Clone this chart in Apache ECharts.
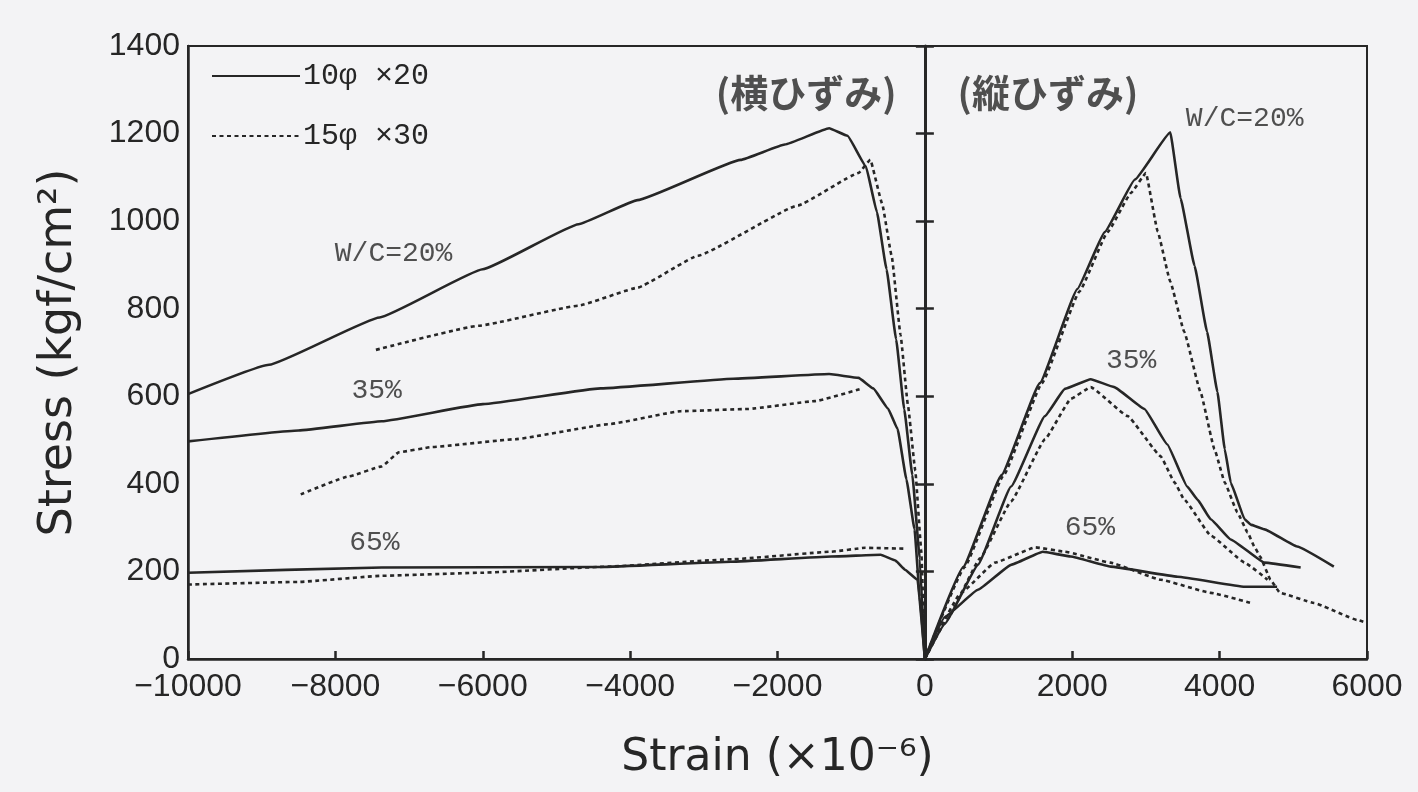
<!DOCTYPE html>
<html><head><meta charset="utf-8">
<script src="https://cdn.jsdelivr.net/npm/echarts@6/dist/echarts.min.js"></script>
<style>html,body{margin:0;padding:0;background:#f3f3f5}#c{width:1418px;height:792px}</style>
</head><body><div id="c"></div>
<script>
// ---- data (strain x10^-6, stress kgf/cm2) ----
const xMin = -10000, xMax = 6000, xStep = 2000;
const yMin = 0, yMax = 1400, yStep = 200;
const SOLID = '10φ ×20';
const DOTTED = '15φ ×30';

// lateral strain (negative side)
const lat20_solid = [[-10000,605],[-8900,672],[-7400,780],[-6000,890],[-4700,993],[-3900,1048],[-2500,1140],[-1900,1175],[-1300,1212],[-1050,1195],[-800,1125],[-650,1020],[-520,890],[-390,730],[-280,570],[-170,420],[-70,230],[0,0]];
const lat20_dot = [[-7450,706],[-6060,761],[-4700,807],[-3900,848],[-3080,921],[-1720,1036],[-900,1110],[-740,1140],[-580,1040],[-450,920],[-330,740],[-230,580],[-130,430],[-50,250],[0,0]];
const lat35_solid = [[-10000,497],[-8500,522],[-7370,543],[-6000,582],[-4400,618],[-2600,640],[-1300,651],[-900,642],[-700,618],[-500,572],[-370,525],[-250,410],[-140,296],[-70,142],[0,0]];
const lat35_dot = [[-8470,376],[-7820,417],[-7370,440],[-7140,472],[-6690,484],[-5560,502],[-4300,536],[-3310,566],[-2400,571],[-1490,589],[-870,617]];
const lat65_solid = [[-10000,197],[-7370,209],[-4400,210],[-2630,222],[-1270,234],[-600,238],[-400,225],[-270,204],[-100,181],[0,0]];
const lat65_dot = [[-10000,170],[-8500,176],[-7370,190],[-6020,197],[-4300,211],[-2600,228],[-1270,245],[-810,254],[-270,252]];

// longitudinal strain (positive side)
const lon20_solid = [[0,0],[520,210],[1040,420],[1560,630],[2070,845],[2440,975],[2850,1095],[3330,1203],[3470,1052],[3660,898],[3830,747],[3970,610],[4070,479],[4150,403],[4340,319],[4420,307],[4610,296],[5050,257],[5550,211]];
const lon20_dot = [[0,0],[540,210],[1070,420],[1590,630],[2100,840],[2480,975],[2800,1065],[3000,1110],[3160,976],[3330,862],[3520,747],[3740,610],[3930,479],[4070,403],[4240,335],[4380,289],[4470,257],[4550,234],[4690,181],[4820,151],[5280,128],[5870,89],[5950,85]];
const lon35_solid = [[0,0],[270,80],[720,215],[1170,394],[1630,555],[1900,617],[2250,639],[2570,621],[2980,571],[3290,490],[3560,394],[3700,364],[3880,319],[4150,273],[4610,220],[5100,209]];
const lon35_dot = [[0,0],[300,90],[750,230],[1170,360],[1630,502],[1980,594],[2250,621],[2750,555],[3200,463],[3390,403],[3520,364],[3880,282],[4340,220],[4650,181]];
const lon65_solid = [[0,0],[270,96],[720,158],[1170,215],[1600,245],[1980,234],[2520,211],[3430,188],[4340,165],[4780,165]];
const lon65_dot = [[0,0],[490,151],[950,220],[1500,255],[1900,245],[2520,220],[3200,181],[3880,151],[4420,128]];

// annotation texts and their data positions
const noteTexts = ['(横ひずみ)', '(縦ひずみ)', 'W/C=20%', 'W/C=20%', '35%', '35%', '65%', '65%'];
const notePos = [[-1610,1293],[1670,1293],[-7210,926],[4340,1235],[-7440,612],[2800,681],[-7470,266],[2240,300]];

// ---- chart ----
const curves = [
  [SOLID, lat20_solid],[DOTTED, lat20_dot],[SOLID, lat35_solid],[DOTTED, lat35_dot],[SOLID, lat65_solid],[DOTTED, lat65_dot],
  [SOLID, lon20_solid],[DOTTED, lon20_dot],[SOLID, lon35_solid],[DOTTED, lon35_dot],[SOLID, lon65_solid],[DOTTED, lon65_dot]
];
const ink = '#262626';
const series = curves.map(([name, data]) => ({
  type: 'line', name, data, symbol: 'none', showSymbol: false,
  smooth: 0.1, smoothMonotone: 'x', silent: true,
  lineStyle: { color: ink, width: 2.6, type: name === SOLID ? 'solid' : [4, 3.5] },
  itemStyle: { color: ink }
}));
series.push({
  type: 'scatter', name: 'notes', symbolSize: 0, silent: true,
  data: noteTexts.map((t, i) => {
    const jp = /[ひ]/.test(t);
    return {
      name: t, value: notePos[i],
      label: {
        show: true, position: 'inside', formatter: '{b}', color: ink,
        fontFamily: jp ? 'Noto Sans CJK JP' : 'Liberation Mono, DejaVu Sans Mono, monospace',
        fontSize: jp ? 38 : 28, fontWeight: jp ? 'bold' : 'normal'
      }
    };
  })
});

const tickFont = 'Liberation Sans, Arial, sans-serif';
const option = {
  animation: false,
  backgroundColor: '#f3f3f5',
  grid: { left: 188, right: 51, top: 46, bottom: 133, show: true, borderColor: ink, borderWidth: 2, backgroundColor: 'transparent' },
  legend: {
    data: [SOLID, DOTTED], orient: 'vertical', left: 206, top: 56, itemGap: 30,
    itemWidth: 88, itemHeight: 16, selectedMode: false,
    itemStyle: { color: 'rgba(0,0,0,0)', borderColor: 'rgba(0,0,0,0)', borderWidth: 0, opacity: 0 },
    textStyle: { color: ink, fontFamily: 'Liberation Mono, DejaVu Sans Mono, monospace', fontSize: 30, padding: [0, 0, 0, -2] }
  },
  xAxis: {
    type: 'value', min: xMin, max: xMax, interval: xStep,
    name: 'Strain (×10⁻⁶)', nameLocation: 'middle', nameGap: 78,
    nameTextStyle: { color: ink, fontFamily: 'DejaVu Sans, sans-serif', fontSize: 44 },
    axisLine: { show: true, lineStyle: { color: ink, width: 2.5 } },
    axisTick: { show: true, inside: true, length: 8, lineStyle: { color: ink, width: 2.5 } },
    splitLine: { show: false },
    axisLabel: { color: ink, fontFamily: tickFont, fontSize: 32, margin: 12, formatter: v => String(v).replace('-', '−') }
  },
  yAxis: [
    {
      type: 'value', min: yMin, max: yMax, interval: yStep,
      name: 'Stress (kgf/cm²)', nameLocation: 'middle', nameGap: 106, nameRotate: 90,
      nameTextStyle: { color: ink, fontFamily: 'DejaVu Sans, sans-serif', fontSize: 46 },
      axisLine: { show: true, onZero: false, lineStyle: { color: ink, width: 2.5 } },
      axisTick: { show: false }, splitLine: { show: false },
      axisLabel: { color: ink, fontFamily: tickFont, fontSize: 32, margin: 8, formatter: v => String(v) }
    },
    {
      type: 'value', min: yMin, max: yMax, interval: yStep, position: 'left',
      axisLine: { show: true, onZero: true, lineStyle: { color: ink, width: 3 } },
      axisTick: { show: true, inside: false, length: 9, lineStyle: { color: ink, width: 2.5 } },
      axisLabel: { show: false }, splitLine: { show: false }
    },
    {
      type: 'value', min: yMin, max: yMax, interval: yStep, position: 'right', offset: 0,
      axisLine: { show: false, onZero: false },
      axisTick: { show: true, inside: false, length: 9, lineStyle: { color: ink, width: 2.5 } },
      axisLabel: { show: false }, splitLine: { show: false }
    }
  ],
  series
};
const chart = echarts.init(document.getElementById('c'), null, { renderer: 'canvas' });
chart.setOption(option);
const px0 = chart.convertToPixel({ xAxisIndex: 0 }, 0);
const pxR = chart.convertToPixel({ xAxisIndex: 0 }, xMax);
chart.setOption({ yAxis: [{}, {}, { offset: -(pxR - px0) }] });
</script></body></html>
